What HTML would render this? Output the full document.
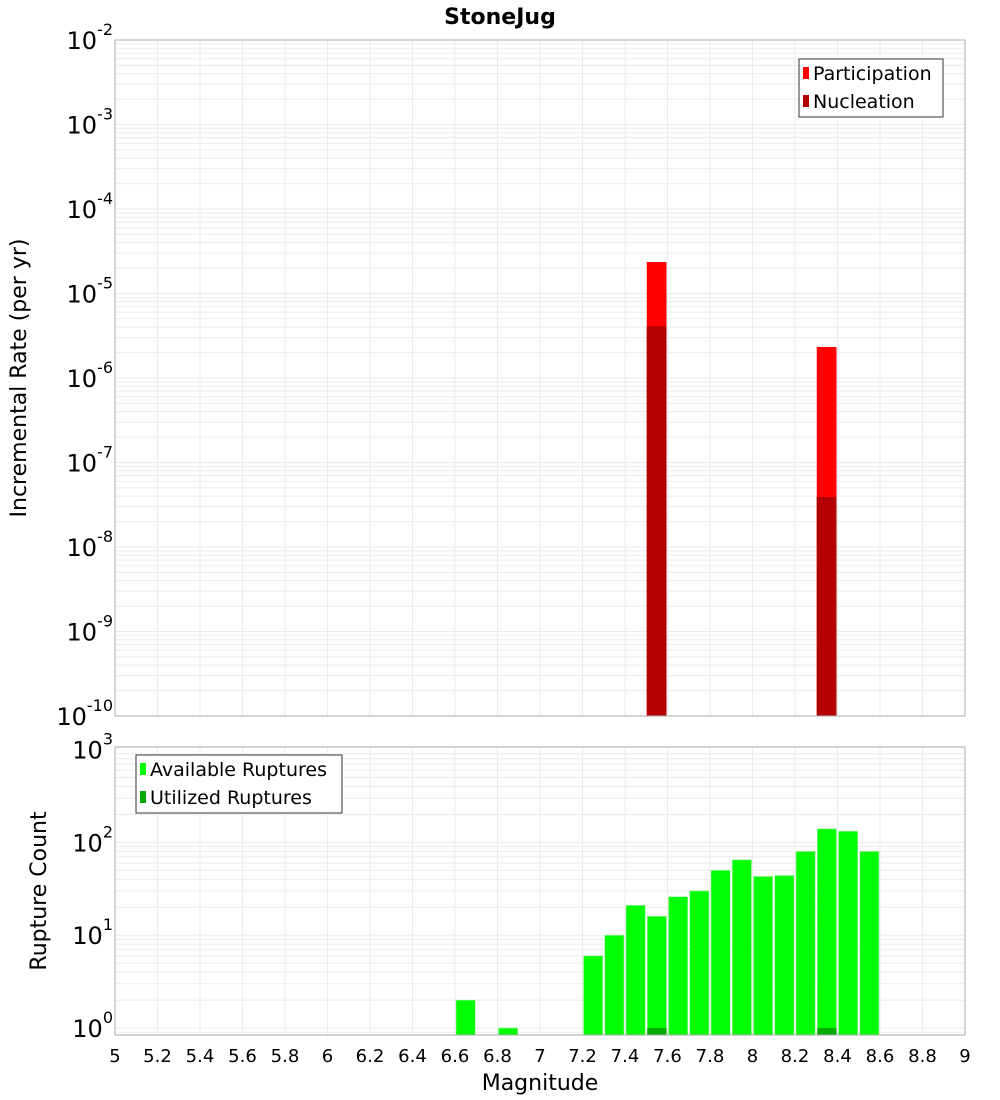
<!DOCTYPE html>
<html><head><meta charset="utf-8">
<style>
body{margin:0;background:#fff;}
svg{display:block;font-family:"DejaVu Sans","Liberation Sans",sans-serif;}
</style></head>
<body>
<svg id="chart" width="1000" height="1100" viewBox="0 0 1000 1100" xmlns="http://www.w3.org/2000/svg">
<text x="500" y="24" text-anchor="middle" font-size="22" font-weight="bold">StoneJug</text>
<g id="topg"></g>
<g id="botg"></g>
<text transform="translate(26,378) rotate(-90)" text-anchor="middle" font-size="22">Incremental Rate (per yr)</text>
<text transform="translate(46,891) rotate(-90)" text-anchor="middle" font-size="22">Rupture Count</text>
<text x="540" y="1090" text-anchor="middle" font-size="22">Magnitude</text>
</svg>
<script>
const rateMags = [7.55, 8.35];
const participation = [2.36e-5, 2.33e-6];
const nucleation = [4.1e-6, 3.9e-8];
const countMags = [6.65, 6.85, 7.25, 7.35, 7.45, 7.55, 7.65, 7.75, 7.85, 7.95, 8.05, 8.15, 8.25, 8.35, 8.45, 8.55];
const available = [2, 1, 6, 10, 21, 16, 26, 30, 50, 65, 43, 44, 80, 140, 132, 80];
const utilMags = [7.55, 8.35];
const utilized = [1, 1];
const xTicks = [5,5.2,5.4,5.6,5.8,6,6.2,6.4,6.6,6.8,7,7.2,7.4,7.6,7.8,8,8.2,8.4,8.6,8.8,9];
const topExps = [-2,-3,-4,-5,-6,-7,-8,-9,-10];
const botExps = [0,1,2,3];

const NS='http://www.w3.org/2000/svg';
const X0=115,X1=965;
const xs=m=>X0+(m-5)/4*(X1-X0);
const TY0=40,TY1=716;
const ty=v=>TY0+(-2-Math.log10(v))*(TY1-TY0)/8;
const BY0=747,BY1=1035,BDEC=92.8;
const by=v=>1028-Math.log10(v)*BDEC;
function mk(p,tag,attrs){const e=document.createElementNS(NS,tag);for(const k in attrs)e.setAttribute(k,attrs[k]);p.appendChild(e);return e;}
const topG=document.getElementById('topg'),botG=document.getElementById('botg');

for(let e=-10;e<-2;e++){for(let k=1;k<10;k++){const y=ty(k*Math.pow(10,e));if(y<TY0)continue;
 const l=mk(topG,'line',{x1:X0,x2:X1,y1:y,y2:y,stroke:'#ebebeb','stroke-width':1});
 
 }}
for(let e=-1;e<3;e++){for(let k=1;k<10;k++){const y=by(k*Math.pow(10,e));if(y<BY0||y>BY1)continue;
 const l=mk(botG,'line',{x1:X0,x2:X1,y1:y,y2:y,stroke:'#ebebeb','stroke-width':1});
 
 }}
xTicks.forEach(t=>{const x=xs(t);
 const a=mk(topG,'line',{x1:x,x2:x,y1:TY0,y2:TY1,stroke:'#ebebeb'});
 
 
 const b=mk(botG,'line',{x1:x,x2:x,y1:BY0,y2:BY1,stroke:'#ebebeb'});
 
 
 const tx=mk(botG,'text',{x:x,y:1062,'text-anchor':'middle','font-size':18});tx.textContent=String(t);
 
 
});
const bw=(X1-X0)/40;
rateMags.forEach((m,i)=>{
 const r=mk(topG,'rect',{x:xs(m)-bw/2+0.5,y:ty(participation[i]),width:bw-1.5,height:TY1-ty(participation[i]),fill:'#ff0000'});
 
 
 const n=mk(topG,'rect',{x:xs(m)-bw/2+0.5,y:ty(nucleation[i]),width:bw-1.5,height:TY1-ty(nucleation[i]),fill:'#b30000'});
 
 
});
countMags.forEach((m,i)=>{
 const r=mk(botG,'rect',{x:xs(m)-bw/2+1,y:by(available[i]),width:bw-2,height:BY1-by(available[i]),fill:'#00ff00',stroke:'#a8f0a8','stroke-width':0.6});
 
 
});
utilMags.forEach((m,i)=>{
 const r=mk(botG,'rect',{x:xs(m)-bw/2+1,y:by(utilized[i]),width:bw-2,height:BY1-by(utilized[i]),fill:'#00aa00'});
 
 
});
const f1=mk(topG,'rect',{x:X0,y:TY0,width:X1-X0,height:TY1-TY0,fill:'none',stroke:'#aaaaaa'});


const f2=mk(botG,'rect',{x:X0,y:BY0,width:X1-X0,height:BY1-BY0,fill:'none',stroke:'#aaaaaa'});


function ylab(p,y,e,nm){const t=mk(p,'text',{x:113,y:y+9,'text-anchor':'end','font-size':24});
 const a=mk(t,'tspan',{});a.textContent='10';
 const s=mk(t,'tspan',{dy:-14,'font-size':16});s.textContent=String(e);
 
 }
topExps.forEach(e=>ylab(topG,ty(Math.pow(10,e)),e,'top-y-tick-label'));
botExps.forEach(e=>ylab(botG,by(Math.pow(10,e)),e,'bottom-y-tick-label'));
function legend(p,x,y,w,items,nm){const g=mk(p,'g',{});
 
 
 mk(g,'rect',{x:x,y:y,width:w,height:58,fill:'#fff',stroke:'#333'});
 items.forEach((it,i)=>{const cy=y+14+i*28;
  const sw=mk(g,'rect',{x:x+4,y:cy-6,width:6,height:12,fill:it[1]});
  
  
  const t=mk(g,'text',{x:x+14,y:cy+7,'font-size':19});t.textContent=it[0];
  
  });}
legend(topG,799,59,144,[['Participation','#ff0000'],['Nucleation','#b30000']],'top-legend');
legend(botG,136,755,206,[['Available Ruptures','#00ff00'],['Utilized Ruptures','#00aa00']],'bottom-legend');
</script>
</body></html>
